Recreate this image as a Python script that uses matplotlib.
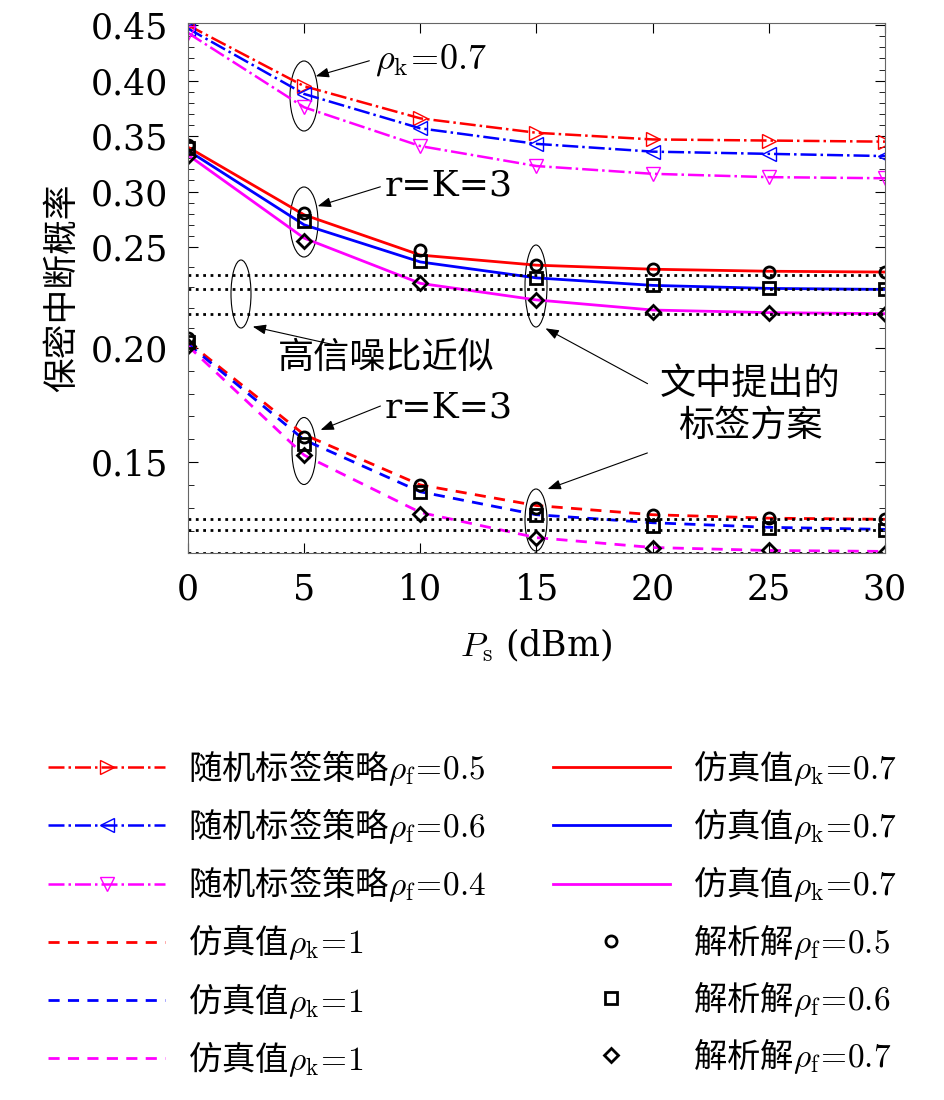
import numpy as np
import matplotlib
matplotlib.use('Agg')
import matplotlib.pyplot as plt
from matplotlib.patches import Ellipse
from matplotlib.ticker import MultipleLocator, FixedLocator

plt.rcParams['font.family'] = ['Noto Sans CJK SC', 'DejaVu Serif']
plt.rcParams['mathtext.fontset'] = 'cm'

ps = [0, 5, 10, 15, 20, 25, 30]

rand_05 = [0.450, 0.395, 0.366, 0.353, 0.347, 0.346, 0.345]
rand_06 = [0.447, 0.388, 0.357, 0.343, 0.336, 0.334, 0.332]
rand_04 = [0.443, 0.376, 0.341, 0.323, 0.316, 0.313, 0.312]

sim07_r = [0.340, 0.279, 0.246, 0.241, 0.239, 0.238, 0.2376]
sim07_b = [0.337, 0.270, 0.2426, 0.2347, 0.231, 0.2295, 0.229]
sim07_m = [0.333, 0.258, 0.232, 0.2238, 0.2188, 0.2175, 0.217]

sim1_r = [0.203, 0.162, 0.140, 0.131, 0.127, 0.1255, 0.125]
sim1_b = [0.202, 0.1597, 0.137, 0.127, 0.1235, 0.1215, 0.1206]
sim1_m = [0.201, 0.153, 0.128, 0.117, 0.1127, 0.1114, 0.111]

ana_05 = [[0.342, 0.281, 0.2485, 0.241, 0.239, 0.2376, 0.2376],
          [0.205, 0.161, 0.140, 0.130, 0.127, 0.1255, 0.125]]
ana_06 = [[0.339, 0.273, 0.243, 0.2347, 0.231, 0.2295, 0.229],
          [0.203, 0.158, 0.137, 0.127, 0.122, 0.121, 0.1202]]
ana_07 = [[0.332, 0.255, 0.232, 0.2238, 0.218, 0.2175, 0.217],
          [0.201, 0.153, 0.1272, 0.117, 0.1125, 0.1114, 0.1105]]

asym = [0.2361, 0.229, 0.2168, 0.125, 0.1202, 0.1105]

# piecewise y axis (value -> pixel height)
yv = np.array([0.1103, 0.15, 0.20, 0.25, 0.452])
yp = np.array([0.0, 91.0, 205.0, 306.0, 530.0])


def fwd(v):
    return np.interp(v, yv, yp, left=-50, right=600)


def inv(p):
    return np.interp(p, yp, yv)


fig = plt.figure(figsize=(9.45, 11), dpi=100)
ax = fig.add_axes([188 / 945, 1 - 553 / 1100, 697 / 945, 530 / 1100])
ax.set_yscale('function', functions=(fwd, inv))

h = []
h += ax.plot(ps, rand_05, 'r-.', marker='>', mfc='none', ms=10, lw=1.8, label=r'随机标签策略$\rho_{\rm f}\!=\!0.5$')
h += ax.plot(ps, rand_06, 'b-.', marker='<', mfc='none', ms=10, lw=1.8, label=r'随机标签策略$\rho_{\rm f}\!=\!0.6$')
h += ax.plot(ps, rand_04, '-.', color='magenta', marker='v', mfc='none', ms=10, lw=1.8, label=r'随机标签策略$\rho_{\rm f}\!=\!0.4$')
h += ax.plot(ps, sim1_r, 'r--', lw=2, dashes=(4, 3), label=r'仿真值$\rho_{\rm k}\!=\!1$')
h += ax.plot(ps, sim1_b, 'b--', lw=2, dashes=(4, 3), label=r'仿真值$\rho_{\rm k}\!=\!1$')
h += ax.plot(ps, sim1_m, '--', color='magenta', lw=2, dashes=(4, 3), label=r'仿真值$\rho_{\rm k}\!=\!1$')
h += ax.plot(ps, sim07_r, 'r-', lw=2, label=r'仿真值$\rho_{\rm k}\!=\!0.7$')
h += ax.plot(ps, sim07_b, 'b-', lw=2, label=r'仿真值$\rho_{\rm k}\!=\!0.7$')
h += ax.plot(ps, sim07_m, '-', color='magenta', lw=2, label=r'仿真值$\rho_{\rm k}\!=\!0.7$')
for vals, mk, lab in [(ana_05, 'o', r'解析解$\rho_{\rm f}\!=\!0.5$'),
                      (ana_06, 's', r'解析解$\rho_{\rm f}\!=\!0.6$'),
                      (ana_07, 'D', r'解析解$\rho_{\rm f}\!=\!0.7$')]:
    ax.plot(ps, vals[1], ls='none', marker=mk, mfc='none', mec='k', mew=2, ms=8 if mk != 'D' else 7)
    h += ax.plot(ps, vals[0], ls='none', marker=mk, mfc='none', mec='k', mew=2, ms=8 if mk != 'D' else 7, label=lab)
for a in asym:
    ax.axhline(a, color='k', ls=':', lw=2)

ax.set_xlim(0, 30)
ax.set_ylim(0.1103, 0.452)
ax.set_xticks(ps)
ax.yaxis.set_major_locator(FixedLocator([0.15, 0.20, 0.25, 0.30, 0.35, 0.40, 0.45]))
ax.yaxis.set_minor_locator(FixedLocator(np.arange(0.12, 0.451, 0.01)))
ax.yaxis.set_major_formatter(plt.FuncFormatter(lambda v, p: '%.2f' % v))
ax.yaxis.set_minor_formatter(plt.NullFormatter())
ax.xaxis.set_minor_locator(MultipleLocator(2.5))
ax.tick_params(which='both', direction='in', top=True, right=True, labelsize=25)
ax.tick_params(which='minor', length=4)
ax.tick_params(which='major', length=7, pad=14)
ax.tick_params(axis='x', which='minor', length=0)
for lab in ax.get_xticklabels() + ax.get_yticklabels():
    lab.set_family('DejaVu Serif')
for s in ax.spines.values():
    s.set_color('0.4')
ax.set_xlabel(r'$P_{\rm s}$ (dBm)', fontsize=25, family='DejaVu Serif', labelpad=14)
ax.set_ylabel('保密中断概率', fontsize=25, labelpad=8)


def P(px, py):
    return ((px - 188) / 697, (553 - py) / 530)


for cx, cy, w, hh in [(304, 96, 28, 70), (304, 222, 28, 70), (241, 294, 20, 68),
                      (536, 286, 22, 82), (304, 451, 24, 67), (536, 520, 22, 62)]:
    ax.add_patch(Ellipse(P(cx, cy), w / 697, hh / 530, transform=ax.transAxes,
                         fill=False, ec='k', lw=0.8, clip_on=False))

arr = dict(arrowstyle='-|>,head_length=0.8,head_width=0.3', color='k', lw=0.8)
ax.annotate('', xy=P(313, 77), xytext=P(372, 60), xycoords='axes fraction', arrowprops=arr)
ax.annotate('', xy=P(315, 207), xytext=P(383, 186), xycoords='axes fraction', arrowprops=arr)
ax.annotate('', xy=P(250, 326), xytext=P(335, 345), xycoords='axes fraction', arrowprops=arr)
ax.annotate('', xy=P(318, 431), xytext=P(383, 405), xycoords='axes fraction', arrowprops=arr)
ax.annotate('', xy=P(543, 327), xytext=P(650, 385), xycoords='axes fraction', arrowprops=arr)
ax.annotate('', xy=P(545, 490), xytext=P(650, 452), xycoords='axes fraction', arrowprops=arr)

tk = dict(transform=ax.transAxes, fontsize=26, va='center')
ax.text(*P(375, 60), r'$\rho_{\rm k}\!=\!0.7$', **tk)
ax.text(*P(385, 186), r'r=K=3', family='DejaVu Serif', **tk)
ax.text(*P(278, 358), '高信噪比近似', **tk)
ax.text(*P(385, 407), r'r=K=3', family='DejaVu Serif', **tk)
ax.text(*P(750, 405), '文中提出的\n标签方案', ha='center', linespacing=1.2, **tk)

fig.legend(handles=h, loc='upper center', bbox_to_anchor=(0.5, 1 - 718 / 1100), ncol=2,
           frameon=False, prop={'family': 'Noto Sans CJK SC', 'size': 24},
           handlelength=3.5, columnspacing=2.0, labelspacing=0.55, handletextpad=0.7)

fig.savefig('out.png', dpi=100)
